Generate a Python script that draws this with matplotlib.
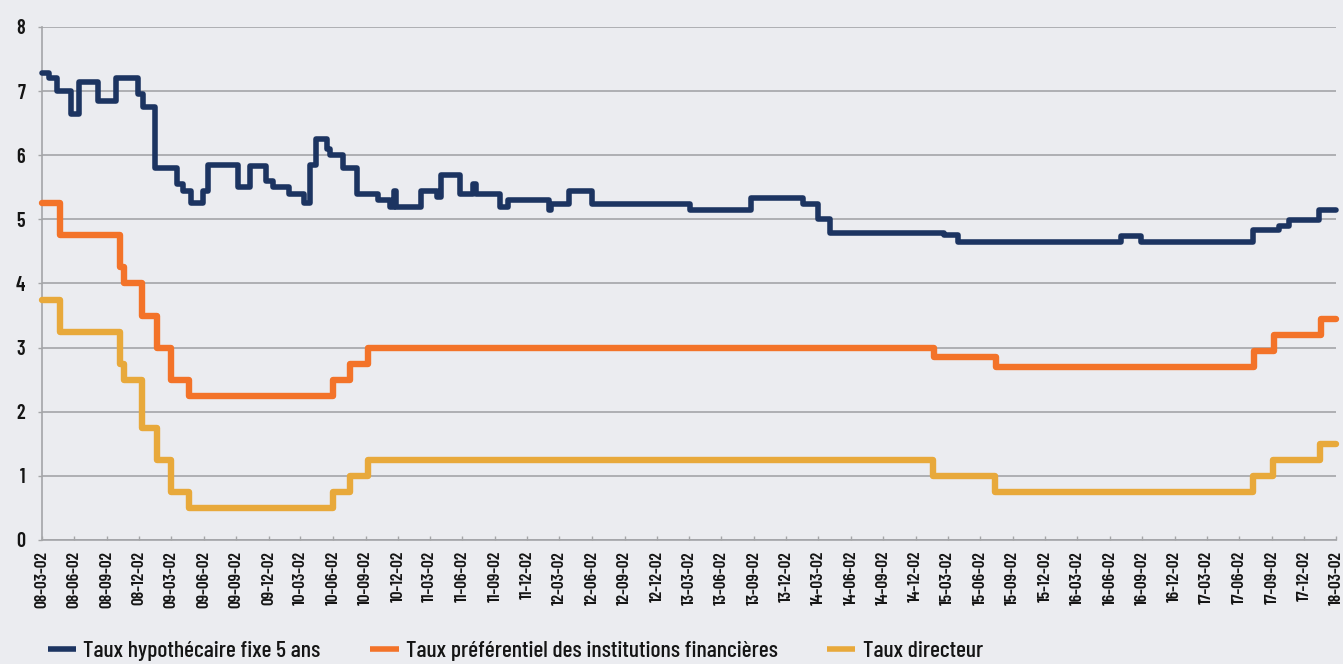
import matplotlib
matplotlib.use("Agg")
import matplotlib.pyplot as plt
import pandas as pd
from matplotlib.lines import Line2D

# --- data ---
hypo_dates = ["2008-03-02", "2008-03-23", "2008-04-15", "2008-05-24", "2008-06-16",
              "2008-08-09", "2008-09-29", "2008-11-30", "2008-12-14", "2009-01-17",
              "2009-03-19", "2009-04-05", "2009-04-28", "2009-05-31", "2009-06-15",
              "2009-09-08", "2009-10-12", "2009-11-24", "2009-12-16", "2010-01-30",
              "2010-03-12", "2010-03-28", "2010-04-15", "2010-05-16", "2010-05-24",
              "2010-06-30", "2010-08-09", "2010-10-08", "2010-11-11", "2010-11-22",
              "2010-11-28", "2011-02-04", "2011-03-22", "2011-04-03", "2011-05-26",
              "2011-07-01", "2011-07-10", "2011-09-17", "2011-10-09", "2012-01-31",
              "2012-02-08", "2012-03-29", "2012-06-03", "2013-03-06", "2013-08-23",
              "2014-01-17", "2014-02-28", "2014-04-05", "2015-02-20", "2015-04-01",
              "2016-07-02", "2016-08-30", "2017-07-12", "2017-09-22", "2017-10-19",
              "2018-01-13", "2018-03-02"]
hypo_values = [7.29, 7.20, 7.00, 6.65, 7.15,
               6.85, 7.20, 6.95, 6.75, 5.80,
               5.55, 5.45, 5.25, 5.45, 5.85,
               5.50, 5.84, 5.60, 5.50, 5.40,
               5.25, 5.85, 6.25, 6.10, 6.00,
               5.80, 5.40, 5.30, 5.20, 5.45,
               5.20, 5.45, 5.35, 5.69, 5.40,
               5.55, 5.40, 5.20, 5.30, 5.15,
               5.24, 5.45, 5.24, 5.15, 5.34,
               5.24, 5.00, 4.79, 4.75, 4.65,
               4.74, 4.65, 4.84, 4.89, 4.99,
               5.14, 5.14]

prime_dates = ["2008-03-02", "2008-04-22", "2008-10-08", "2008-10-21", "2008-12-09",
               "2009-01-20", "2009-03-03", "2009-04-21", "2010-06-01", "2010-07-20",
               "2010-09-08", "2015-01-22", "2015-07-16", "2017-07-13", "2017-09-07",
               "2018-01-18", "2018-03-02"]
prime_values = [5.25, 4.75, 4.25, 4.00, 3.50,
                3.00, 2.50, 2.25, 2.50, 2.75,
                3.00, 2.85, 2.70, 2.95, 3.20,
                3.45, 3.45]

dir_dates = ["2008-03-02", "2008-04-22", "2008-10-08", "2008-10-21", "2008-12-09",
             "2009-01-20", "2009-03-03", "2009-04-21", "2010-06-01", "2010-07-20",
             "2010-09-08", "2015-01-21", "2015-07-15", "2017-07-12", "2017-09-06",
             "2018-01-17", "2018-03-02"]
dir_values = [3.75, 3.25, 2.75, 2.50, 1.75,
              1.25, 0.75, 0.50, 0.75, 1.00,
              1.25, 1.00, 0.75, 1.00, 1.25,
              1.50, 1.50]

labels = ["Taux hypothécaire fixe 5 ans",
          "Taux préférentiel des institutions financières",
          "Taux directeur"]
colors = ["#1C3461", "#F37329", "#E8A93B"]

tick_dates = pd.date_range("2008-03-02", periods=41, freq=pd.DateOffset(months=3))
tick_labels = [d.strftime("%y-%m-%d") for d in tick_dates]

# --- style ---
bg = "#EBECF0"
grid_col = "#A4A5A8"
txt_col = "#151515"
plt.rcParams["font.family"] = ["Barlow Condensed", "DejaVu Sans"]
plt.rcParams["font.weight"] = 500

fig = plt.figure(figsize=(13.43, 6.64), dpi=100, facecolor=bg)
ax = fig.add_axes([0.03105, 0.18675, 0.96374, 0.77259])
ax.set_facecolor(bg)

series = [(hypo_dates, hypo_values, 4.0),
          (prime_dates, prime_values, 4.6),
          (dir_dates, dir_values, 4.6)]
for (d, v, lw), col in zip(series, colors):
    ax.step(pd.to_datetime(d), v, where="post", color=col, lw=lw,
            solid_joinstyle="round", solid_capstyle="round",
            clip_on=False, zorder=3)

ax.set_ylim(0, 8)
ax.set_yticks(range(0, 9))
ax.set_xlim(tick_dates[0], tick_dates[-1])
ax.set_xticks(tick_dates)
ax.set_xticklabels(tick_labels, rotation=90, fontweight=600)
for lab in ax.get_yticklabels():
    lab.set_fontweight(600)

ax.yaxis.grid(True, color=grid_col, lw=1.2)
ax.xaxis.grid(False)
ax.set_axisbelow(True)
for side in ["top", "right"]:
    ax.spines[side].set_visible(False)
for side in ["left", "bottom"]:
    ax.spines[side].set_color(grid_col)
    ax.spines[side].set_linewidth(1.2)

ax.tick_params(axis="y", direction="out", length=3, width=1.0, color=grid_col,
               pad=9, labelsize=14.5, labelcolor=txt_col)
ax.tick_params(axis="x", direction="in", length=3, width=1.0, color=grid_col,
               pad=8, labelsize=12.5, labelcolor=txt_col)

handles = [Line2D([], [], color=c, lw=4.0, solid_capstyle="butt") for c in colors]
fig.legend(handles, labels, loc="center left",
           bbox_to_anchor=(48 / 1343, 1 - 651 / 664), ncol=3, frameon=False,
           fontsize=17, handlelength=1.2, handletextpad=0.3,
           columnspacing=2.1, borderpad=0, borderaxespad=0,
           labelcolor=txt_col)

fig.savefig("out.png", dpi=100, facecolor=bg)
